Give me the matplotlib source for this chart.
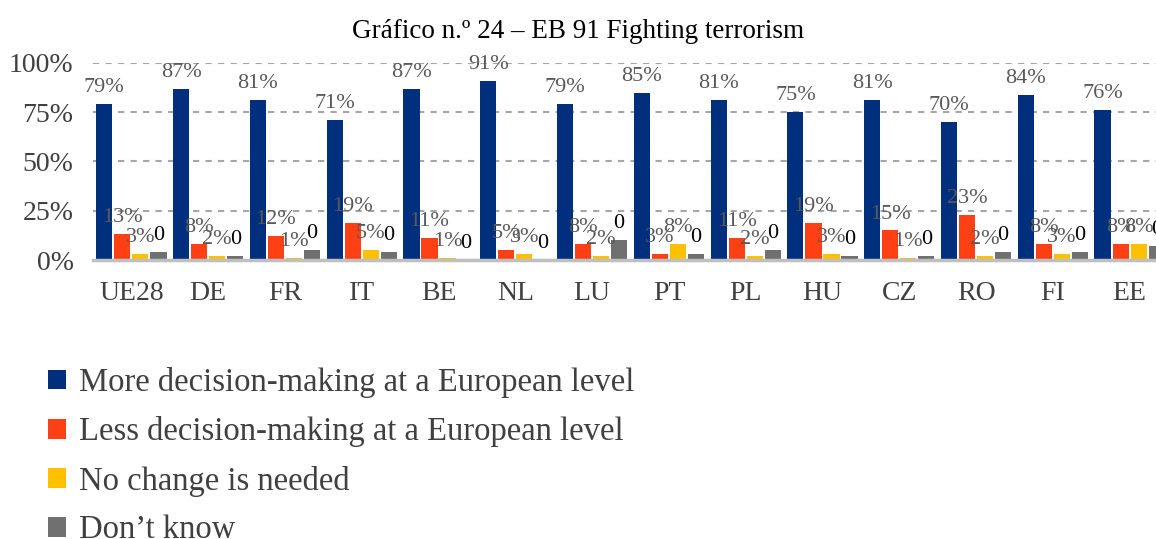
import matplotlib
matplotlib.use('Agg')
import matplotlib.pyplot as plt
import numpy as np

# chart data
countries = ['UE28', 'DE', 'FR', 'IT', 'BE', 'NL', 'LU', 'PT', 'PL', 'HU', 'CZ', 'RO', 'FI', 'EE']
more = [79, 87, 81, 71, 87, 91, 79, 85, 81, 75, 81, 70, 84, 76]
less = [13, 8, 12, 19, 11, 5, 8, 3, 11, 19, 15, 23, 8, 8]
nochange = [3, 2, 1, 5, 1, 3, 2, 8, 2, 3, 1, 2, 3, 8]
dontknow = [4, 2, 5, 4, 0, 0, 10, 3, 5, 2, 2, 4, 4, 7]

series_names = ['More decision-making at a European level',
                'Less decision-making at a European level',
                'No change is needed',
                'Don\u2019t know']
colors = ['#002F7D', '#FF4015', '#FFC000', '#707070']

plt.rcParams['font.family'] = ['Liberation Serif', 'DejaVu Serif']

fig = plt.figure(figsize=(11.56, 5.39), dpi=100)
ax = fig.add_axes([93 / 1156, (539 - 260) / 539, (1168 - 93) / 1156, 197 / 539])

x = np.arange(len(countries))
step = 0.235
width = 0.21
offsets = [-1.5 * step, -0.5 * step, 0.5 * step, 1.5 * step]
all_vals = [more, less, nochange, dontknow]

for vals, off, col, name in zip(all_vals, offsets, colors, series_names):
    ax.bar(x + off, np.array(vals) / 100.0, width, color=col, label=name, zorder=3)

# data labels
for i in range(len(countries)):
    for k, vals in enumerate(all_vals):
        if k == 3:
            txt, c = '0', 'black'
        else:
            txt, c = '%d%%' % vals[i], '#595959'
        ax.annotate(txt, (x[i] + offsets[k], vals[i] / 100.0), xytext=(0, 5),
                    textcoords='offset points', ha='center', va='bottom',
                    fontsize=16, color=c, zorder=4)

ax.set_xlim(-0.5, len(countries) - 0.5)
ax.set_ylim(0, 1.0)
ax.set_yticks([0, 0.25, 0.5, 0.75, 1.0])
ax.set_yticklabels(['0%', '25%', '50%', '75%', '100%'])
ax.yaxis.grid(True, linestyle=(0, (3, 3)), color='#A6A6A6', linewidth=1.5, zorder=0)
ax.set_xticks(x)
ax.set_xticklabels(countries)
ax.tick_params(axis='both', length=0, labelsize=20, colors='#404040', pad=14)
ax.tick_params(axis='x', pad=15)
for sp in ['top', 'right', 'left']:
    ax.spines[sp].set_visible(False)
ax.spines['bottom'].set_color('#BFBFBF')
ax.spines['bottom'].set_linewidth(2.5)
ax.spines['bottom'].set_zorder(5)

fig.text(0.5, 1 - 31 / 539, 'Gráfico n.º 24 \u2013 EB 91 Fighting terrorism',
         ha='center', va='center', fontsize=19.5, color='black')

fig.legend(loc='upper left', bbox_to_anchor=(0.03, 1 - 354 / 539), frameon=False,
           fontsize=23.5, handlelength=0.55, handleheight=0.55, handletextpad=0.4,
           labelspacing=0.56, labelcolor='#404040', borderaxespad=0)

fig.savefig('out.png', dpi=100)
